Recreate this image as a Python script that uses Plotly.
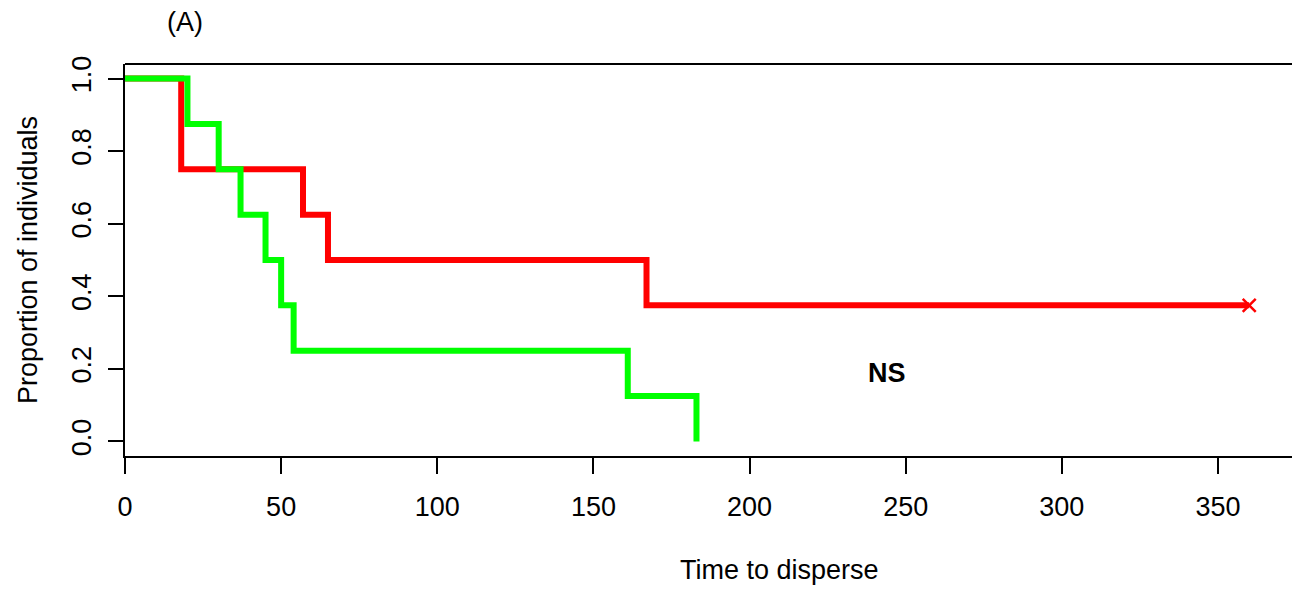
import plotly.graph_objects as go

red_time = [0, 18, 57, 65, 167, 360]
red_surv = [1.0, 0.75, 0.625, 0.5, 0.375, 0.375]
green_time = [0, 20, 30, 37, 45, 50, 54, 161, 183]
green_surv = [1.0, 0.875, 0.75, 0.625, 0.5, 0.375, 0.25, 0.125, 0.0]
censor_time = [360]
censor_surv = [0.375]
x_ticks = [0, 50, 100, 150, 200, 250, 300, 350]
y_ticks = [0.0, 0.2, 0.4, 0.6, 0.8, 1.0]
y_tick_labels = ["0.0", "0.2", "0.4", "0.6", "0.8", "1.0"]

FONT = "Liberation Sans, Arial, sans-serif"

fig = go.Figure()
fig.add_trace(go.Scatter(x=red_time, y=red_surv, mode="lines", line_shape="hv",
                         line=dict(color="#FF0000", width=6), showlegend=False))
fig.add_trace(go.Scatter(x=green_time, y=green_surv, mode="lines", line_shape="hv",
                         line=dict(color="#00FF00", width=6), showlegend=False))
fig.add_trace(go.Scatter(x=censor_time, y=censor_surv, mode="markers",
                         marker=dict(symbol="x-thin", size=13, line=dict(color="#FF0000", width=2.5)),
                         showlegend=False))

fig.add_annotation(x=244, y=0.19, text="<b>NS</b>", showarrow=False,
                   font=dict(family=FONT, size=27, color="black"))
fig.add_annotation(xref="paper", yref="paper", x=(185 - 125) / 1167, y=1 + (64 - 22) / 392,
                   xanchor="center", yanchor="middle",
                   text="(A)", showarrow=False, font=dict(family=FONT, size=27, color="black"))
fig.add_annotation(xref="paper", yref="paper", x=(779 - 125) / 1167, y=-(570 - 456) / 392,
                   xanchor="center", yanchor="middle",
                   text="Time to disperse", showarrow=False, font=dict(family=FONT, size=27, color="black"))
fig.add_shape(type="line", xref="paper", yref="paper", x0=0, x1=1, y0=1, y1=1,
              line=dict(color="black", width=2))

fig.update_layout(
    width=1292, height=591,
    margin=dict(l=125, r=0, t=64, b=135),
    paper_bgcolor="white", plot_bgcolor="white",
    font=dict(family=FONT, size=27, color="black"),
    xaxis=dict(range=[0, 373.7], tickvals=x_ticks, ticks="outside", ticklen=16, tickwidth=1.5,
               tickcolor="black", showline=True, linecolor="black", linewidth=2,
               showgrid=False, zeroline=False, ticklabelstandoff=10),
    yaxis=dict(range=[-0.04, 1.04], tickvals=y_ticks, ticktext=y_tick_labels, tickangle=-90,
               ticks="outside", ticklen=15, tickwidth=1.5, tickcolor="black",
               showline=True, linecolor="black", linewidth=2, showgrid=False, zeroline=False,
               ticklabelstandoff=6,
               title=dict(text="Proportion of individuals", font=dict(size=27), standoff=22)),
)

fig.write_html("out.html", config={"displayModeBar": False},
               post_script="document.body.style.margin='0';document.body.style.overflow='hidden';")
